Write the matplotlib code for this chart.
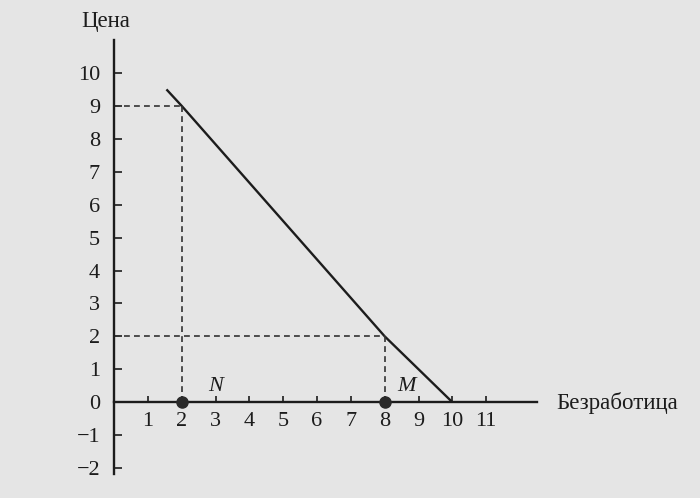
import matplotlib
matplotlib.use("Agg")
import matplotlib.pyplot as plt

# Data
x_ticks = [1, 2, 3, 4, 5, 6, 7, 8, 9, 10, 11]
y_ticks = [-2, -1, 0, 1, 2, 3, 4, 5, 6, 7, 8, 9, 10]
curve_x = [1.55, 2, 8, 10]
curve_y = [9.5, 9, 2, 0]
points_x = [2, 8]
points_price = [9, 2]
point_labels = ["N", "M"]

bg = "#e5e5e5"
ink = "#1c1c1c"
plt.rcParams['font.family'] = ['Liberation Serif', 'DejaVu Serif']

fig = plt.figure(figsize=(7.0, 4.98), dpi=100, facecolor=bg)
W, H = 700, 498
x0px, x1px = 114, 537
ytop, ybot = 40, 474
ax = fig.add_axes([x0px / W, (H - ybot) / H, (x1px - x0px) / W, (ybot - ytop) / H])
ax.set_facecolor(bg)
ax.set_xlim(0, 12.5)
ax.set_ylim(-2.18, 11.0)

for s in ["top", "right"]:
    ax.spines[s].set_visible(False)
ax.spines["left"].set_position(("data", 0))
ax.spines["bottom"].set_position(("data", 0))
for s in ["left", "bottom"]:
    ax.spines[s].set_linewidth(1.7)
    ax.spines[s].set_color(ink)

ax.set_xticks(x_ticks)
ax.set_xticklabels([str(v) for v in x_ticks])
ax.set_yticks(y_ticks)
ax.set_yticklabels([("\u2212" + str(-v)) if v < 0 else str(v) for v in y_ticks])
ax.tick_params(axis="x", direction="in", length=4, width=1.2, pad=7,
               labelsize=16, colors=ink)
ax.tick_params(axis="y", direction="in", length=6, width=1.2, pad=10,
               labelsize=16, colors=ink)

# line
ax.plot(curve_x, curve_y, color=ink, lw=1.7, solid_capstyle="butt")

# dashed guides
for px, py in zip(points_x, points_price):
    ax.plot([0, px], [py, py], color="#333333", lw=1.2, ls=(0, (3.5, 2.5)))
    ax.plot([px, px], [0, py], color="#333333", lw=1.2, ls=(0, (3.5, 2.5)))

# points on x-axis
ax.plot(points_x, [0, 0], "o", color="#2a2a2a", ms=8, zorder=5, clip_on=False)

ax.text(3.0, 0.2, point_labels[0], fontsize=16, style="italic", color=ink,
        ha="center", va="bottom")
ax.text(8.65, 0.2, point_labels[1], fontsize=16, style="italic", color=ink,
        ha="center", va="bottom")

fig.text(106 / W, 1 - 22 / H, "Цена", fontsize=16.5, color=ink, ha="center", va="center")
fig.text(556 / W, 1 - 403 / H, "Безработица", fontsize=16.5, color=ink, ha="left", va="center")

fig.savefig("out.png", dpi=100, facecolor=bg)
